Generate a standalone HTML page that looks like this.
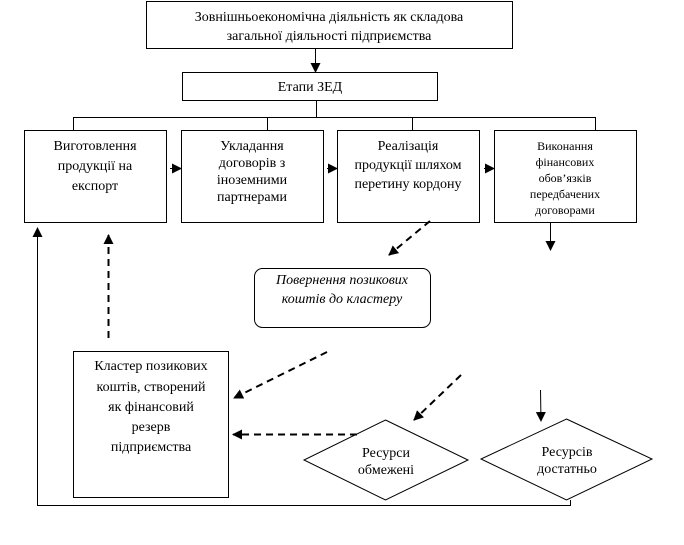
<!DOCTYPE html>
<html><head><meta charset="utf-8"><style>
body{margin:0;background:#fff;}
svg text{font-family:"Liberation Serif","DejaVu Serif",serif;font-size:14px;fill:#000;text-anchor:middle;}
</style></head><body>
<svg width="684" height="540" viewBox="0 0 684 540" xmlns="http://www.w3.org/2000/svg">
<defs>
<marker id="a" markerWidth="10" markerHeight="10" refX="9" refY="5" orient="auto" markerUnits="userSpaceOnUse"><path d="M0,0 L10,5 L0,10 z" fill="#000"/></marker>
</defs>
<g fill="none" stroke="#000" stroke-width="1">
<rect x="146.5" y="1.5" width="366" height="47"/>
<rect x="182.5" y="72.5" width="255" height="28"/>
<rect x="24.5" y="130.5" width="142" height="92"/>
<rect x="181.5" y="130.5" width="142" height="92"/>
<rect x="337.5" y="130.5" width="142" height="92"/>
<rect x="494.5" y="130.5" width="142" height="92"/>
<rect x="254.5" y="268.5" width="176" height="59" rx="8"/>
<rect x="73.5" y="351.5" width="155" height="146"/>
<polygon points="385.5,420 468,460 385.5,500 304,460"/>
<polygon points="566.5,419 652,459 566.5,500 481,459"/>
<line x1="315.5" y1="48" x2="315.5" y2="72" marker-end="url(#a)"/>
<line x1="316.5" y1="100" x2="316.5" y2="117"/>
<line x1="73" y1="117.5" x2="596" y2="117.5"/>
<line x1="73.5" y1="117" x2="73.5" y2="130"/>
<line x1="267.5" y1="117" x2="267.5" y2="130"/>
<line x1="412.5" y1="117" x2="412.5" y2="130"/>
<line x1="595.5" y1="117" x2="595.5" y2="130"/>
<line x1="170" y1="168.5" x2="181" y2="168.5" marker-end="url(#a)"/>
<line x1="327" y1="168.5" x2="337" y2="168.5" marker-end="url(#a)"/>
<line x1="484" y1="168.5" x2="494" y2="168.5" marker-end="url(#a)"/>
<line x1="550.5" y1="222" x2="550.5" y2="250" marker-end="url(#a)"/>
<line x1="540.5" y1="390" x2="541" y2="421" marker-end="url(#a)"/>
<polyline points="570.5,500 570.5,505.5 37.5,505.5 37.5,230"/>
<line x1="37.5" y1="240" x2="37.5" y2="228" marker-end="url(#a)"/>
<g stroke-width="2" stroke-dasharray="7,5">
<line x1="430" y1="221" x2="389" y2="255" marker-end="url(#a)"/>
<line x1="108.5" y1="338" x2="108.5" y2="235" marker-end="url(#a)"/>
<line x1="327" y1="352" x2="234" y2="398" marker-end="url(#a)"/>
<line x1="461" y1="375" x2="414" y2="420" marker-end="url(#a)"/>
<line x1="357" y1="434.5" x2="233" y2="434.5" marker-end="url(#a)"/>
</g>
</g>
<text x="329" y="21">Зовнішньоекономічна діяльність як складова</text>
<text x="329" y="40">загальної діяльності підприємства</text>
<text x="310" y="91">Етапи ЗЕД</text>
<text x="95" y="150">Виготовлення</text>
<text x="95" y="170">продукції на</text>
<text x="95" y="190">експорт</text>
<text x="252" y="150">Укладання</text>
<text x="252" y="167">договорів з</text>
<text x="252" y="184">іноземними</text>
<text x="252" y="201">партнерами</text>
<text x="408" y="150">Реалізація</text>
<text x="408" y="169">продукції шляхом</text>
<text x="408" y="188">перетину кордону</text>
<g style="font-size:12px"><text x="565" y="150" style="font-size:12px">Виконання</text>
<text x="565" y="166" style="font-size:12px">фінансових</text>
<text x="565" y="182" style="font-size:12px">обов’язків</text>
<text x="565" y="198" style="font-size:12px">передбачених</text>
<text x="565" y="214" style="font-size:12px">договорами</text></g>
<text x="342" y="284" font-style="italic">Повернення позикових</text>
<text x="342" y="303" font-style="italic">коштів до кластеру</text>
<text x="151" y="370">Кластер позикових</text>
<text x="151" y="391">коштів, створений</text>
<text x="151" y="411">як фінансовий</text>
<text x="151" y="431">резерв</text>
<text x="151" y="451">підприємства</text>
<text x="386" y="457">Ресурси</text>
<text x="386" y="474">обмежені</text>
<text x="567" y="456">Ресурсів</text>
<text x="567" y="473">достатньо</text>
</svg>
</body></html>
